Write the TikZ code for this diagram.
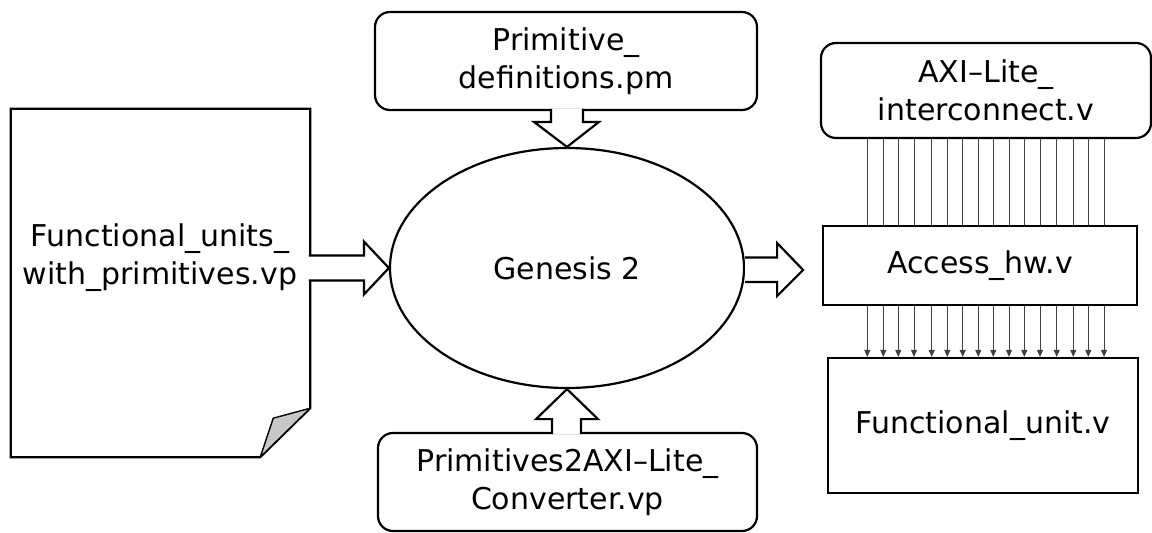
\documentclass[tikz,border=0pt]{standalone}
\usepackage{fontspec}
\setmainfont{DejaVu Sans}
\usetikzlibrary{arrows.meta,shapes.geometric,calc}
\tikzset{
  txt/.style={font=\fontsize{30}{38}\selectfont, align=center, inner sep=0pt},
  rbox/.style={txt, draw, line width=2.2pt, rounded corners=15pt},
  sbox/.style={txt, draw, line width=2.2pt},
  barrow/.style={draw, line width=2.2pt, fill=white, line join=miter},
  wire/.style={line width=0.9pt, black!75},
  wirearrow/.style={wire, -{Triangle[length=7pt,width=6pt]}},
}
\begin{document}
\begin{tikzpicture}[x=1pt,y=-1pt]
\useasboundingbox (0,0) rectangle (1152,533);

% document shape
\node[minimum width=299pt, minimum height=348pt, inner sep=0pt] (doc) at (160.5,283) {};
\draw[line width=2.2pt, line join=miter] (doc.north west) -- (doc.north east) -- ($(doc.south east)+(0,-49)$) -- ($(doc.south east)+(-50,0)$) -- (doc.south west) -- cycle;
\draw[line width=1.4pt, fill=black!22, line join=round] ($(doc.south east)+(0,-49)$) -- ($(doc.south east)+(-37,-39)$) -- ($(doc.south east)+(-50,0)$) -- cycle;
\node[txt] (doctxt) at (160,258) {Functional\_units\_\\with\_primitives.vp};

% Genesis ellipse
\node[ellipse, draw, line width=2.2pt, minimum width=354pt, minimum height=240pt, txt] (gen) at (567,268) {Genesis 2};

% top and bottom boxes
\node[rbox, minimum width=382pt, minimum height=98pt] (prim) at (566,61) {Primitive\_\\definitions.pm};
\node[rbox, minimum width=379pt, minimum height=98pt] (conv) at (567.5,482) {Primitives2AXI–Lite\_\\Converter.vp};

% right column
\node[rbox, minimum width=330pt, minimum height=95pt] (axi) at (986,90.5) {AXI–Lite\_\\interconnect.v};
\node[sbox, minimum width=314pt, minimum height=79pt] (acc) at (980,265.5) {Access\_hw.v};
\node[sbox, minimum width=310pt, minimum height=135pt] (fu) at (983,425.5) {Functional\_unit.v};

% block arrows
\draw[barrow, shift={(gen.west)}] (-80,-12.5) -- (-25,-12.5) -- (-25,-26.5) -- (0,0) -- (-25,26.5) -- (-25,12.5) -- (-80,12.5);
\draw[barrow, shift={(gen.east)}] (0,-10.5) -- (32,-10.5) -- (32,-25) -- (58,2) -- (32,28) -- (32,14) -- (0,14);
\draw[barrow, shift={(gen.north)}] (-16,-38) -- (-16,-25) -- (-33,-25) -- (0,0) -- (32,-25) -- (16,-25) -- (16,-38);
\draw[barrow, shift={(gen.south)}] (-15,45) -- (-15,30) -- (-31,30) -- (0,0) -- (31,30) -- (14,30) -- (14,45);

% wires
\foreach \x in {867.3,883.3,898.3,914,931.7,947.3,962.7,978.3,993.3,1009,1024.3,1040,1056.7,1073.3,1088.3,1104}{
  \draw[wire] (\x,0 |- axi.south) -- (\x,0 |- acc.north);
  \draw[wirearrow] (\x,0 |- acc.south) -- (\x,0 |- fu.north);
}
\end{tikzpicture}
\end{document}
